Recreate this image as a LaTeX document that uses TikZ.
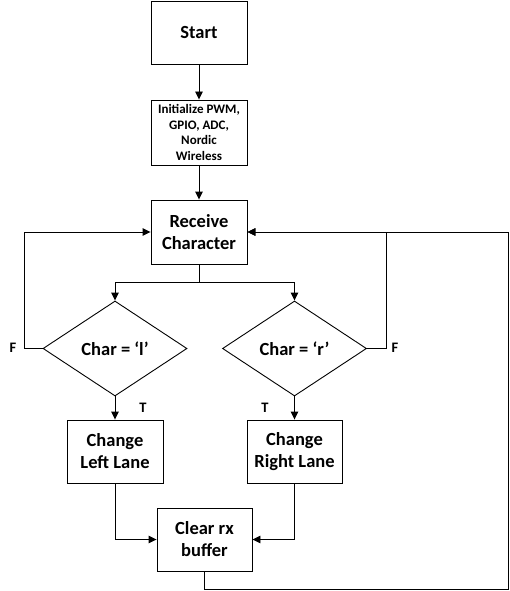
\documentclass[tikz,border=0pt]{standalone}
\usepackage{fontspec}
\setmainfont{Carlito}
\usepackage{tikz}
\usetikzlibrary{shapes.geometric, arrows.meta, positioning}

\begin{document}
\begin{tikzpicture}[x=1pt, y=-1pt]
        % Define styles
        \tikzstyle{stepbox} = [rectangle, draw, line width=0.9pt, minimum width=96pt, minimum height=63pt, inner sep=1pt, align=center, font=\fontsize{18.5}{22}\selectfont\bfseries]
        \tikzstyle{decision} = [diamond, draw, line width=0.9pt, aspect=1.5, inner sep=0pt, minimum width=144pt, minimum height=95pt, align=center, font=\fontsize{18.5}{22}\selectfont\bfseries]
        \tikzstyle{arrow} = [-{Triangle[length=8pt, width=7.5pt]}, line width=0.9pt]
        \tikzstyle{branch} = [font=\fontsize{14.5}{16}\selectfont\bfseries]

        \useasboundingbox (0,0) rectangle (510,591);

        % Boxes - main column
        \node[stepbox] (start) at (199, 32.5) {Start};
        \node[stepbox, minimum height=65pt, font=\fontsize{13}{15.5}\selectfont\bfseries] (init) at (199, 132.5) {Initialize PWM,\\GPIO, ADC,\\Nordic\\Wireless};
        \node[stepbox, minimum height=64pt] (recv) at (199, 232) {Receive\\Character};

        % Decisions
        \node[decision] (isl) at (115, 348.5) {Char = ‘l’};
        \node[decision] (isr) at (294.5, 348.5) {Char = ‘r’};

        % Actions
        \node[stepbox] (left) at (115, 451.5) {Change\\Left Lane};
        \node[stepbox, minimum width=95pt] (right) at (294.5, 451.5) {Change\\Right Lane};
        \node[stepbox, minimum width=95pt] (clear) at (204.5, 539.5) {Clear rx\\buffer};

        % Helper points
        \coordinate (split) at (199, 282);
        \coordinate (back) at (508, 589);

        % Connections
        \draw[arrow] (start) -- (init);
        \draw[arrow] (init) -- (recv);
        \draw[line width=0.9pt] (recv) -- (split);
        \draw[arrow] (split) -| (isl.north);
        \draw[arrow] (split) -| (isr.north);
        \draw[arrow] (isl.west) -- ++(-18, 0) |- (recv.west);
        \draw[arrow] (isr.east) -- ++(19, 0) |- (recv.east);
        \draw[arrow] (isl) -- (left);
        \draw[arrow] (isr) -- (right);
        \draw[arrow] (left.south) |- (clear.west);
        \draw[arrow] (right.south) |- (clear.east);
        \draw[arrow] (clear.south) |- (back) |- (recv.east);

        % Branch labels
        \node[branch] at (13, 348) {F};
        \node[branch] at (395, 348) {F};
        \node[branch] at (143, 408) {T};
        \node[branch] at (265, 408) {T};

    \end{tikzpicture}
\end{document}
